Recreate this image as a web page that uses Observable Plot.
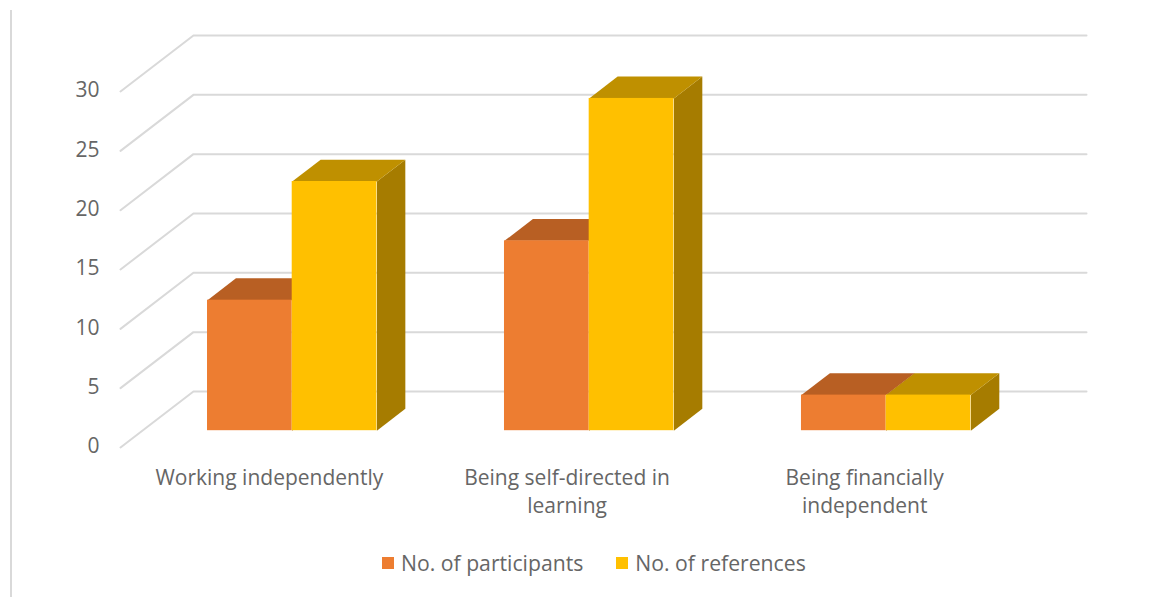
<!DOCTYPE html>
<html>
<head>
<meta charset="utf-8">
<script src="https://cdn.jsdelivr.net/npm/d3@7"></script>
<script src="https://cdn.jsdelivr.net/npm/@observablehq/plot@0.6"></script>
<style>
  html, body { margin: 0; background: #fff; }
  #chart { position: relative; width: 1158px; height: 597px; overflow: hidden; font-family: "Open Sans", sans-serif; color: #666; }
  #chart::before { content: ""; position: absolute; left: 10px; top: 10px; bottom: 0; width: 2px; background: #d9d9d9; }
  #chart svg { display: block; }
  .legend { display: flex; align-items: center; position: absolute; left: 382px; top: 548px; font-size: 21.2px; line-height: 30px; }
  .legend i { display: block; width: 12px; height: 12px; margin-right: 7px; }
  .legend span { margin-right: 33px; white-space: nowrap; }
</style>
</head>
<body>
<div id="chart"></div>
<script>
const categories = ["Working independently", "Being self-directed in\nlearning", "Being financially\nindependent"];
const seriesNames = ["No. of participants", "No. of references"];
const participants = [11, 16, 3];
const references = [21, 28, 3];
const yTicks = [0, 5, 10, 15, 20, 25, 30];

const seriesValues = [participants, references];
const frontColors = ["#ed7d31", "#ffc000"];
const topColors = ["#b85f23", "#bf9000"];
const sideColors = ["#a65a24", "#a67c00"];

// Oblique projection: a unit of depth moves a point right and up, in data units.
const depthX = 0.245;
const depthY = 4.72;
const project = (u, v, z) => [u + z * depthX, v + z * depthY];

// Bars stand partway into the floor.
const barNear = 0.30;
const barFar = 0.69;
const groupStart = 0.2188;
const groupStep = 0.9976;
const barWidth = 0.2845;

const gridLines = yTicks.flatMap((v) => [
  {v, p: project(0, v, 0)},
  {v, p: project(0, v, 1)},
  {v, p: project(3, v, 1)}
]);

const bars = seriesValues.flatMap((values, s) =>
  values.map((value, c) => ({
    key: `${s}-${c}`, s, c, value,
    u0: c * groupStep + groupStart + s * barWidth,
    u1: c * groupStep + groupStart + (s + 1) * barWidth
  }))
);

// Each face is a closed outline walked through the same scales as the axes.
const face = (name, color, corners) => (b) =>
  corners(b).map(([u, v, z]) => ({id: `${name}-${b.key}`, s: b.s, color: color[b.s], p: project(u, v, z)}));

const topFaces = bars.flatMap(face("top", topColors, (b) => [
  [b.u0, b.value, barNear], [b.u1, b.value, barNear], [b.u1, b.value, barFar], [b.u0, b.value, barFar], [b.u0, b.value, barNear]
]));
const sideFaces = bars.flatMap(face("side", sideColors, (b) => [
  [b.u1, 0, barNear], [b.u1, b.value, barNear], [b.u1, b.value, barFar], [b.u1, 0, barFar], [b.u1, 0, barNear]
]));
const frontFaces = bars.map((b) => {
  const [x1, y1] = project(b.u0, 0, barNear);
  const [x2, y2] = project(b.u1, b.value, barNear);
  return {x1, x2, y1, y2, s: b.s, color: frontColors[b.s]};
});

// Per series so that the references bars paint over the participants bars.
const seriesMarks = seriesNames.flatMap((_, s) => [
  Plot.line(sideFaces.filter((d) => d.s === s), {x: (d) => d.p[0], y: (d) => d.p[1], z: "id", fill: "color", stroke: null, curve: "linear"}),
  Plot.line(topFaces.filter((d) => d.s === s), {x: (d) => d.p[0], y: (d) => d.p[1], z: "id", fill: "color", stroke: null, curve: "linear"}),
  Plot.rect(frontFaces.filter((d) => d.s === s), {x1: "x1", x2: "x2", y1: "y1", y2: "y2", fill: "color"})
]);

const plot = Plot.plot({
  width: 1158,
  height: 540,
  marginLeft: 120,
  marginRight: 72,
  marginTop: 35,
  marginBottom: 93,
  style: {background: "#fff", fontFamily: '"Open Sans", sans-serif', color: "#666"},
  x: {domain: [0, 3 + depthX]},
  y: {domain: [0, 30 + depthY]},
  marks: [
    Plot.line(gridLines, {x: (d) => d.p[0], y: (d) => d.p[1], z: "v", stroke: "#d9d9d9", strokeWidth: 2}),
    ...seriesMarks,
    Plot.axisY({ticks: yTicks, tickSize: 0, tickPadding: 21, fontSize: 21, dy: -1, label: null, tickFormat: (d) => d, fill: "#666"}),
    Plot.axisX({ticks: [0.5, 1.5, 2.5], tickSize: 0, tickPadding: 18, fontSize: 21, lineHeight: 1.33, label: null, tickFormat: (d) => categories[Math.floor(d)], fill: "#666"})
  ]
});

const chart = document.getElementById("chart");
chart.append(plot);

const legend = document.createElement("div");
legend.className = "legend";
seriesNames.forEach((name, s) => {
  const swatch = document.createElement("i");
  swatch.style.background = frontColors[s];
  const label = document.createElement("span");
  label.textContent = name;
  legend.append(swatch, label);
});
chart.append(legend);
</script>
</body>
</html>
